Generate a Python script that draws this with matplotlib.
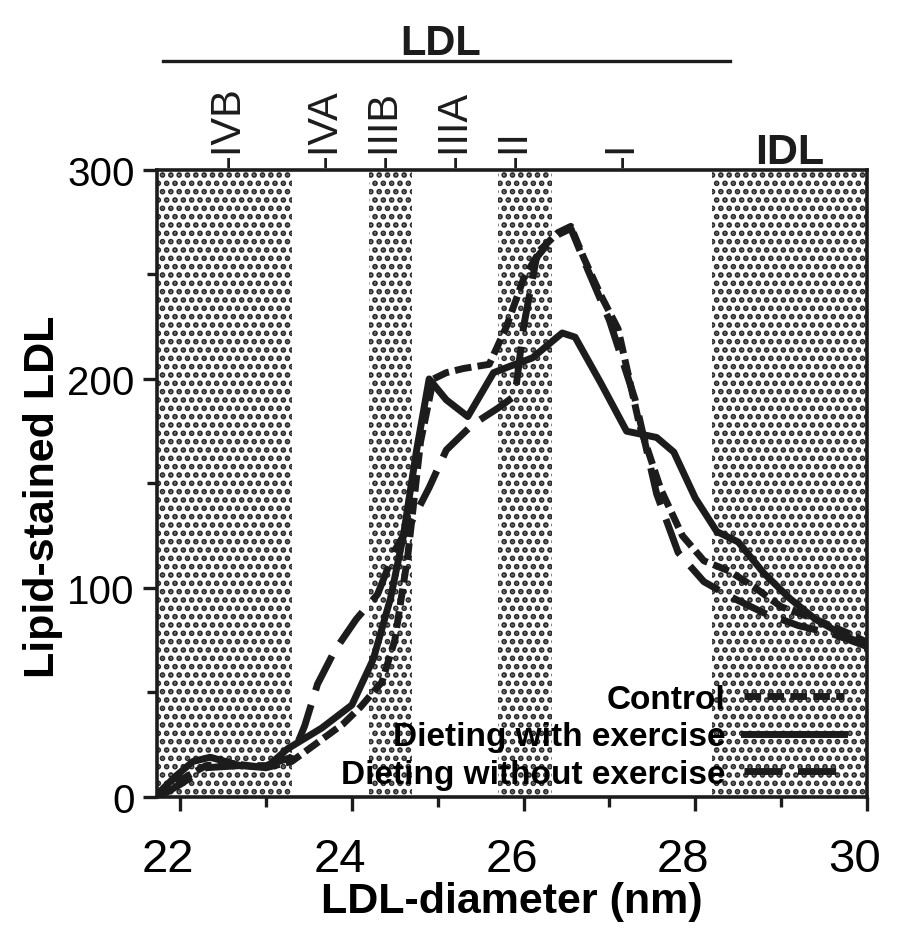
import matplotlib
matplotlib.use("Agg")
import matplotlib.pyplot as plt
import matplotlib.transforms as mtransforms
import numpy as np

# LDL subclass bands (nm)
bands = [(21.73, 23.3), (24.2, 24.7), (25.7, 26.33), (28.2, 30.0)]

# subclass labels on top
subLabels = ["-IVB", "-IVA", "-IIIB", "-IIIA", "-II", "-I"]
subPos = [22.56, 23.69, 24.39, 25.20, 25.90, 27.15]

# control (short dash)
ctrlX = [21.75, 22.0, 22.3, 22.6, 23.0, 23.3, 23.6, 23.9, 24.1, 24.35, 24.5, 24.65, 24.8, 24.95,
         25.1, 25.3, 25.6, 25.8, 26.0, 26.2, 26.4, 26.55, 26.7, 26.9, 27.1, 27.35, 27.6, 27.85,
         28.1, 28.4, 28.7, 29.0, 29.4, 29.8, 30.0]
ctrlY = [0, 8, 15, 16, 14, 17, 26, 35, 43, 55, 75, 115, 170, 200,
         203, 205, 207, 225, 248, 262, 270, 273, 258, 240, 224, 178, 147, 125,
         113, 108, 100, 91, 85, 78, 74]

# dieting with exercise (solid)
exX = [21.75, 21.95, 22.15, 22.35, 22.7, 23.0, 23.25, 23.65, 24.0, 24.25, 24.45, 24.6, 24.75,
       24.9, 25.1, 25.35, 25.65, 25.9, 26.1, 26.45, 26.6, 26.9, 27.2, 27.55, 27.75, 28.0, 28.25,
       28.5, 28.8, 29.1, 29.4, 29.7, 30.0]
exY = [2, 10, 17, 19, 15, 14, 23, 33, 44, 66, 95, 125, 165,
       200, 190, 182, 203, 207, 210, 222, 220, 198, 175, 172, 165, 143, 127,
       122, 107, 95, 85, 78, 72]

# dieting without exercise (long dash)
noexX = [21.75, 22.0, 22.3, 22.7, 23.0, 23.3, 23.45, 23.6, 23.8, 24.05, 24.3, 24.5, 24.7, 24.9,
         25.1, 25.4, 25.7, 25.9, 26.0, 26.15, 26.35, 26.55, 26.75, 27.0, 27.3, 27.55, 27.8,
         28.1, 28.4, 28.8, 29.2, 29.6, 30.0]
noexY = [0, 6, 14, 15, 15, 19, 34, 54, 70, 85, 97, 118, 132, 148,
         166, 178, 186, 192, 225, 258, 268, 272, 252, 228, 190, 145, 117,
         103, 96, 88, 82, 78, 72]

plt.rcParams['font.family'] = ['Liberation Sans', 'DejaVu Sans']
plt.rcParams['hatch.linewidth'] = 2.8
ink = '#1c1c1c'

fig = plt.figure(figsize=(9.09, 9.45), dpi=100)
ax = fig.add_axes([0.1727, 0.1556, 0.7811, 0.6635])

for a, b in bands:
    ax.axvspan(a, b, facecolor='white', edgecolor='#2a2a2a', hatch='..', linewidth=0, zorder=0)

ax.plot(ctrlX, ctrlY, color=ink, lw=5, dashes=(2.4, 0.9), label='Control', zorder=3)
ax.plot(exX, exY, color=ink, lw=5, label='Dieting with exercise', zorder=3)
ax.plot(noexX, noexY, color=ink, lw=5, dashes=(5.5, 2.2), label='Dieting without exercise', zorder=3)

ax.set_xlim(21.73, 30.0)
ax.set_ylim(0, 300)
ax.set_xticks([22, 24, 26, 28, 30])
ax.set_xticks([23, 25, 27, 29], minor=True)
ax.set_yticks([0, 100, 200, 300])
ax.set_yticks([50, 150, 250], minor=True)
ax.tick_params(which='major', length=10, width=2.4, color=ink, direction='out')
ax.tick_params(which='minor', length=7, width=2.4, color=ink, direction='out')
ax.tick_params(axis='x', labelsize=34, pad=19)
ax.tick_params(axis='y', labelsize=29, pad=6)
# x labels sit a bit left of their ticks in the original
for lab in ax.get_xticklabels():
    lab.set_transform(lab.get_transform() + mtransforms.ScaledTranslation(-0.12, 0, fig.dpi_scale_trans))
for s in ax.spines.values():
    s.set_linewidth(2.6)
    s.set_color(ink)

ax.set_xlabel('LDL-diameter (nm)', fontsize=31, fontweight='bold', labelpad=0)
ax.set_ylabel('Lipid-stained LDL', fontsize=31, fontweight='bold', labelpad=3, y=0.48)

leg = ax.legend(loc='lower right', bbox_to_anchor=(0.972, 0.006), frameon=False, markerfirst=False,
                prop={'weight': 'bold', 'size': 24}, handlelength=3.0, handletextpad=0.55,
                labelspacing=0.2, borderpad=0.1, borderaxespad=0)

# top annotations
trans = ax.get_xaxis_transform()
for lab, xp in zip(subLabels, subPos):
    ax.text(xp, 1.004, lab, transform=trans, rotation=90, ha='center', va='bottom',
            fontsize=30, color=ink, clip_on=False)
ax.text(29.1, 0.997, 'IDL', transform=trans, ha='center', va='bottom',
        fontsize=31, fontweight='bold', color=ink, clip_on=False)
ax.plot([21.8, 28.4], [1.174, 1.174], transform=trans, color=ink, lw=2.4, clip_on=False)
ax.text(25.03, 1.185, 'LDL', transform=trans, ha='center', va='baseline',
        fontsize=30, fontweight='bold', color=ink, clip_on=False)

plt.savefig("out.png", dpi=100)
